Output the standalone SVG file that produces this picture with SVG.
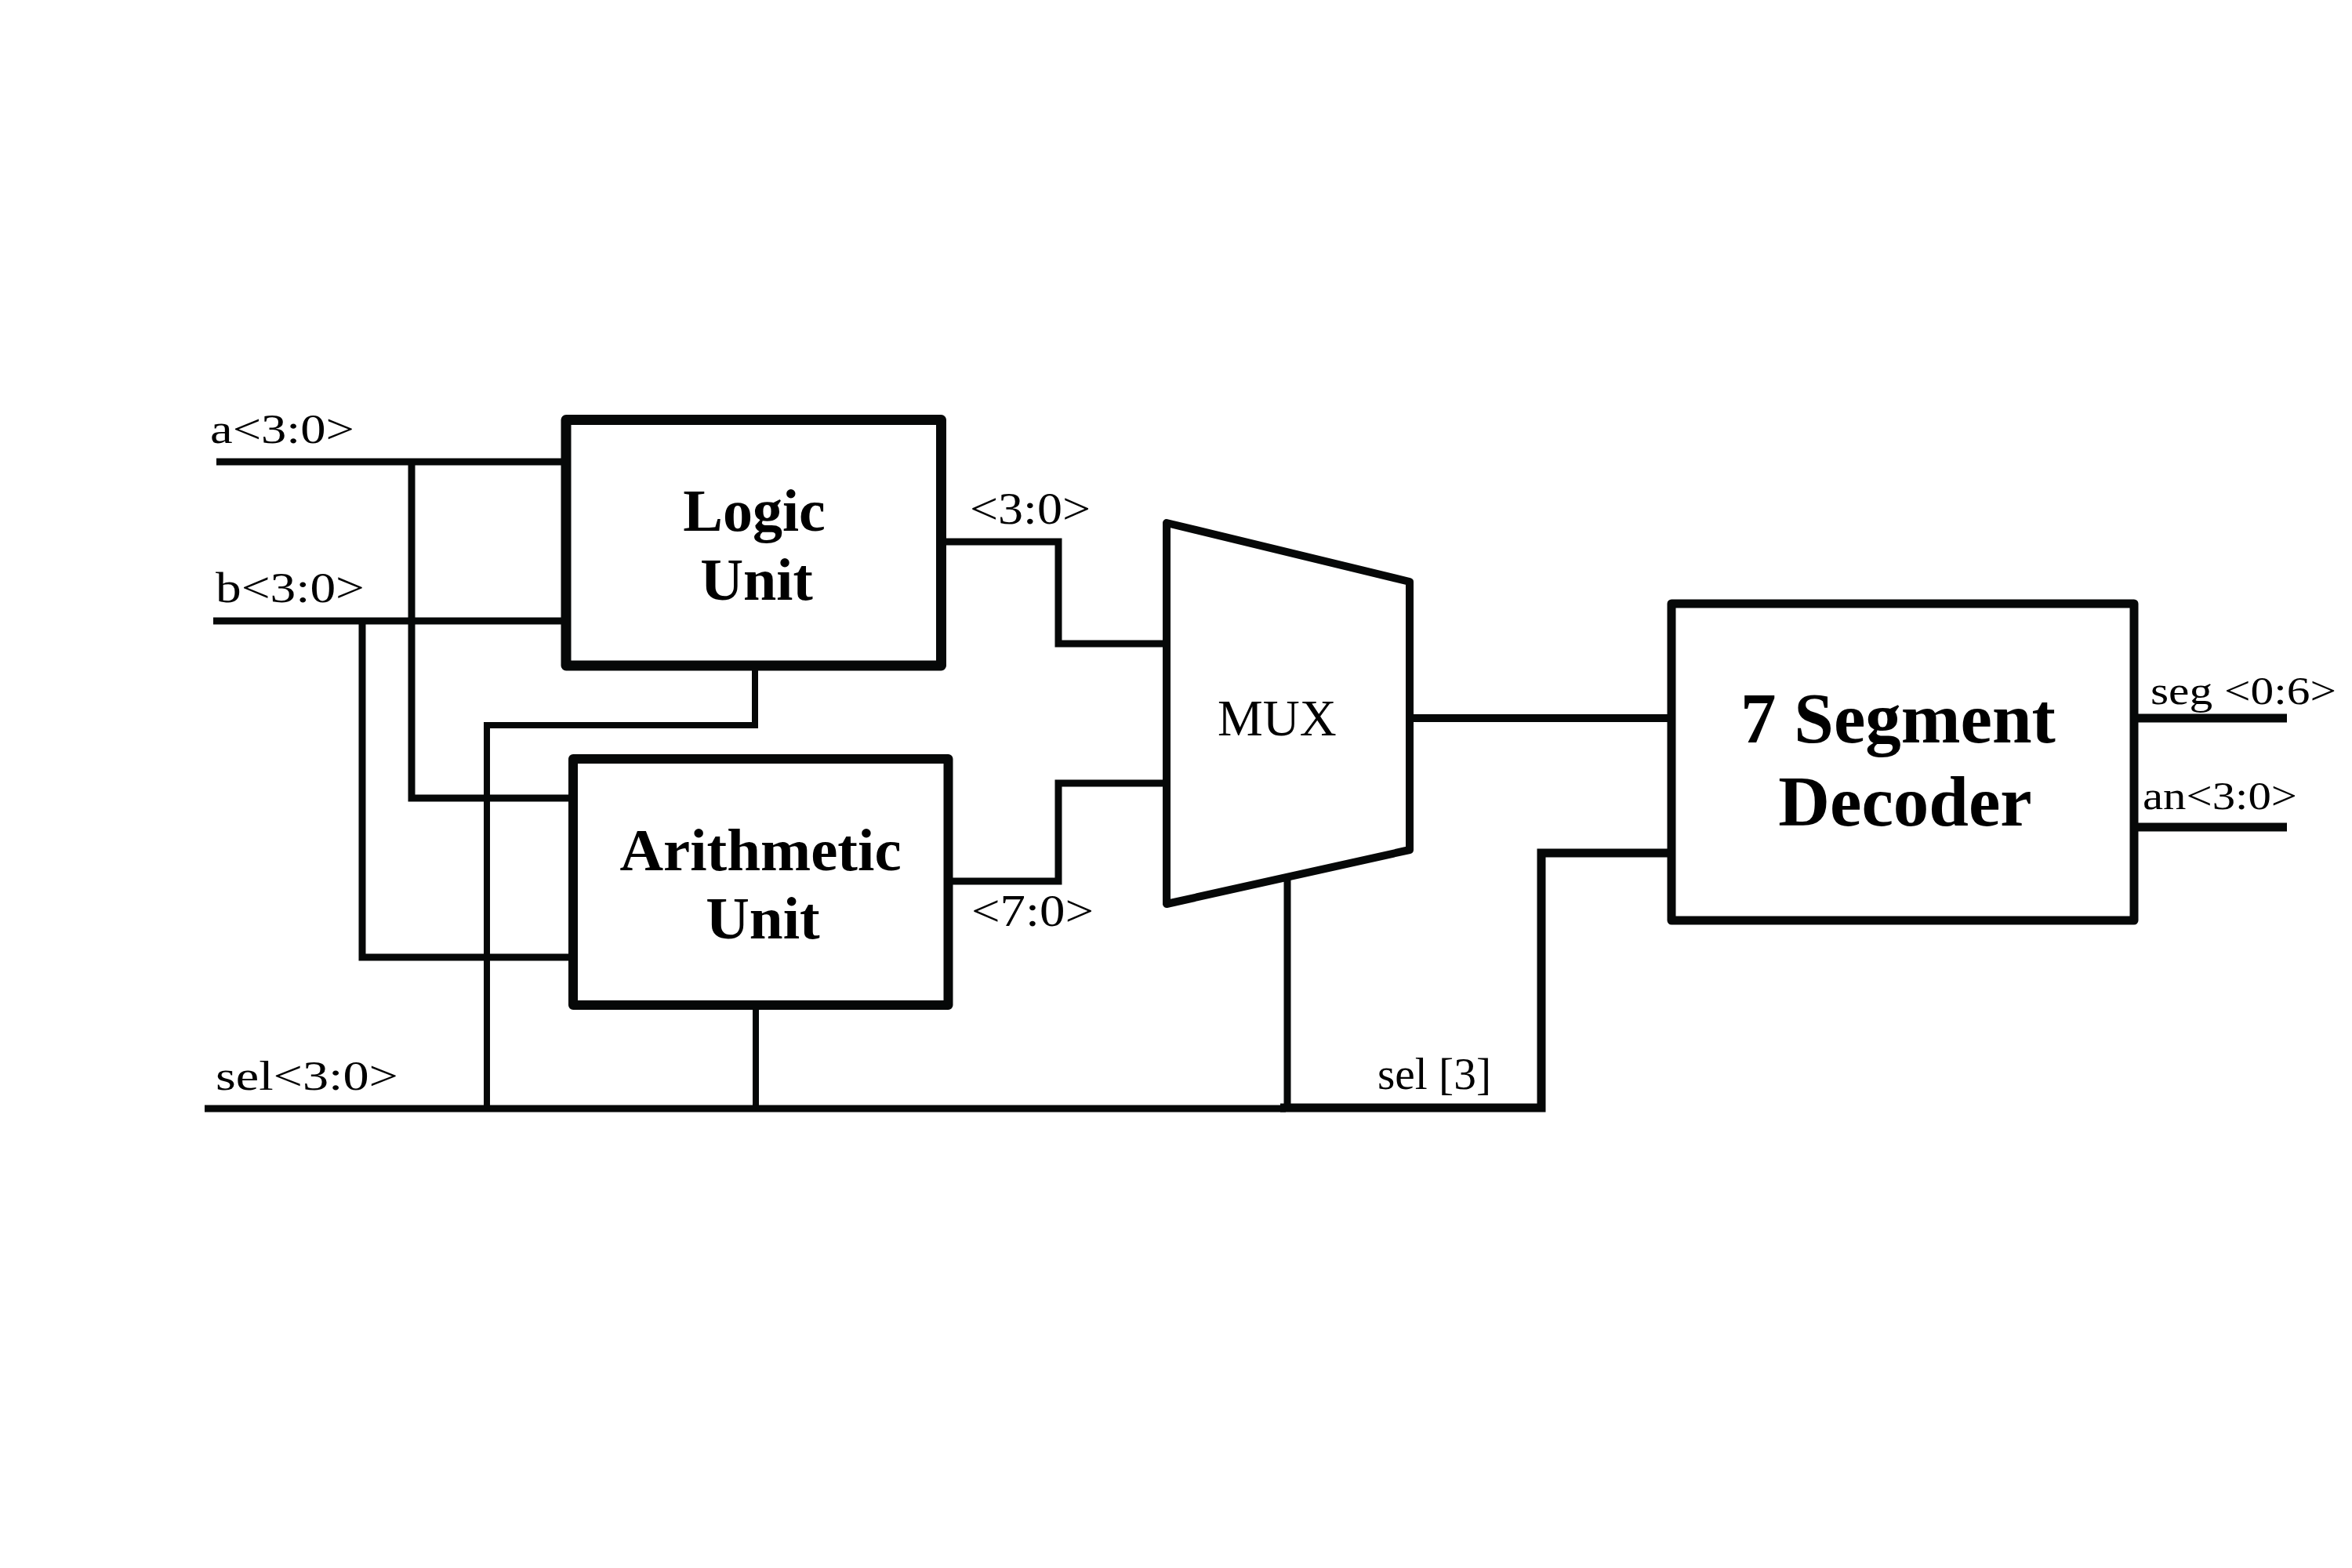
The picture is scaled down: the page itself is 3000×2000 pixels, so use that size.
<svg xmlns="http://www.w3.org/2000/svg" width="3000" height="2000" viewBox="0 0 3000 2000">
<style>
.box{fill:#fff;stroke:#060808;stroke-linejoin:round}
.w{fill:none;stroke:#060808;stroke-width:9;stroke-linejoin:miter}
.lbl{font-family:"Liberation Serif","Times New Roman",serif;fill:#000}
.bold{font-family:"Liberation Serif","Times New Roman",serif;font-weight:bold;fill:#000;text-anchor:middle}
</style>
<rect width="3000" height="2000" fill="#fff"/>
<g id="connectors">
  <path class="w" d="M276,589 H718"/>
  <path class="w" d="M272,792 H716"/>
  <path class="w" d="M525,589 V1018 H726"/>
  <path class="w" d="M462,792 V1221 H726"/>
  <path class="w" d="M963,855 V925 H621 V1414" style="stroke-width:8"/>
  <path class="w" d="M964,1288 V1414" style="stroke-width:8"/>
  <path class="w" d="M261,1414 H1640"/>
  <path class="w" d="M1642,1119 V1412"/>
  <path class="w" d="M1633,1413 H1966 V1088 H2127" style="stroke-width:11"/>
  <path class="w" d="M1206,691 H1350 V821 H1484"/>
  <path class="w" d="M1215,1124 H1350 V999 H1484"/>
  <path class="w" d="M1803,916 H2127" style="stroke-width:10"/>
  <path class="w" d="M2727,916 H2917" style="stroke-width:11"/>
  <path class="w" d="M2727,1055 H2917" style="stroke-width:11"/>
</g>
<g id="logic-unit">
  <rect class="box" x="722" y="535.5" width="478.5" height="313.5" style="stroke-width:13"/>
  <text class="bold" x="962" y="677" style="font-size:76px">Logic</text>
  <text class="bold" x="965" y="765" style="font-size:76px">Unit</text>
</g>
<g id="arithmetic-unit">
  <rect class="box" x="731" y="968" width="478.5" height="314" style="stroke-width:12"/>
  <text class="bold" x="970" y="1110" style="font-size:77px">Arithmetic</text>
  <text class="bold" x="973" y="1197" style="font-size:77px">Unit</text>
</g>
<g id="mux">
  <polygon class="box" points="1488,667 1798,742 1798,1084 1488,1153" style="stroke-width:10"/>
  <text class="lbl" x="1553" y="938" style="font-size:65px">MUX</text>
</g>
<g id="decoder">
  <rect class="box" x="2132" y="770" width="590" height="404" style="stroke-width:11"/>
  <text class="bold" x="2421" y="947" style="font-size:91px">7 Segment</text>
  <text class="bold" x="2430" y="1053" style="font-size:91px">Decoder</text>
</g>
<g id="labels">
  <text class="lbl" x="268" y="565" style="font-size:52px" textLength="184" lengthAdjust="spacingAndGlyphs">a&lt;3:0&gt;</text>
  <text class="lbl" x="275" y="768" style="font-size:54px" textLength="190" lengthAdjust="spacingAndGlyphs">b&lt;3:0&gt;</text>
  <text class="lbl" x="1237" y="668" style="font-size:58px" textLength="154" lengthAdjust="spacingAndGlyphs">&lt;3:0&gt;</text>
  <text class="lbl" x="1239" y="1181" style="font-size:58px" textLength="156" lengthAdjust="spacingAndGlyphs">&lt;7:0&gt;</text>
  <text class="lbl" x="275" y="1390" style="font-size:52px" textLength="233" lengthAdjust="spacingAndGlyphs">sel&lt;3:0&gt;</text>
  <text class="lbl" x="1757" y="1389" style="font-size:58px" textLength="145" lengthAdjust="spacingAndGlyphs">sel [3]</text>
  <text class="lbl" x="2743" y="898" style="font-size:50px" textLength="237" lengthAdjust="spacingAndGlyphs">seg &lt;0:6&gt;</text>
  <text class="lbl" x="2733" y="1032" style="font-size:50px" textLength="197" lengthAdjust="spacingAndGlyphs">an&lt;3:0&gt;</text>
</g>
</svg>
